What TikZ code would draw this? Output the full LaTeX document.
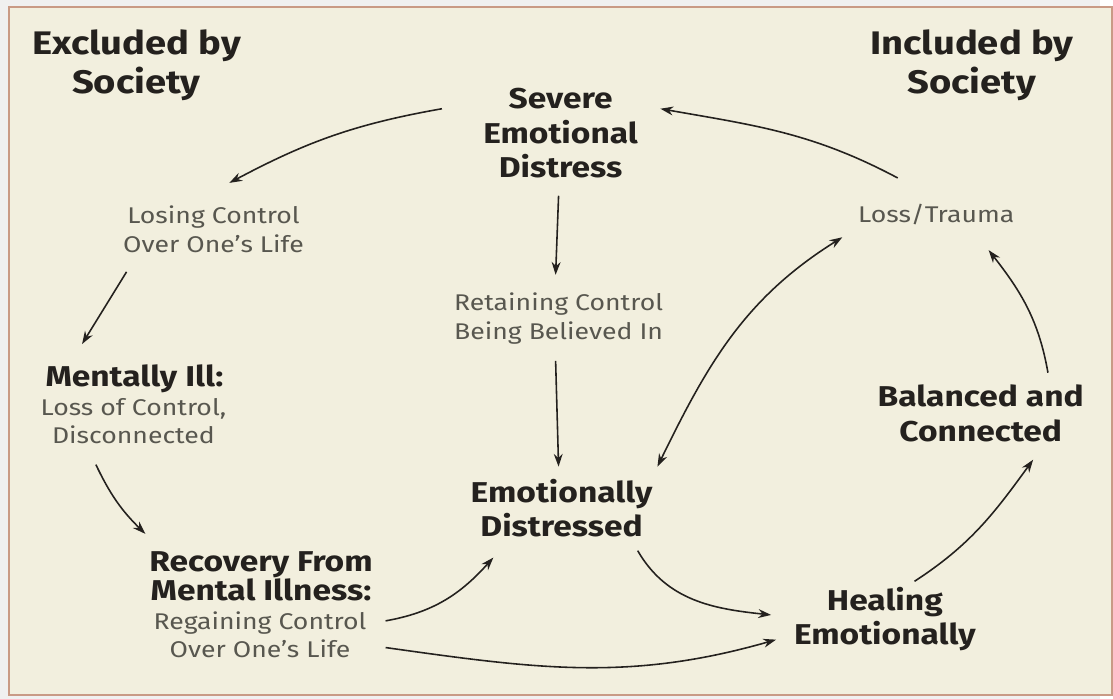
\documentclass[tikz,border=0pt]{standalone}
\usepackage{fontspec}
\setmainfont{Fira Sans}[FakeStretch=1.17]
\usetikzlibrary{arrows.meta}
\definecolor{paper}{HTML}{F2EFDE}
\definecolor{frame}{HTML}{C99A85}
\definecolor{ink}{HTML}{24211E}
\definecolor{soft}{HTML}{58574F}

\begin{document}
\begin{tikzpicture}[x=1pt,y=1pt,
  arr/.tip={Stealth[length=13pt,width=9pt]},
  head/.style={align=center,inner sep=0pt,text=ink,font=\bfseries\fontsize{33}{40}\selectfont},
  stage/.style={align=center,inner sep=0pt,text=ink,font=\bfseries\fontsize{29}{35}\selectfont},
  tight/.style={align=center,inner sep=0pt,text=ink,font=\bfseries\fontsize{29}{30}\selectfont},
  note/.style={align=center,inner sep=0pt,text=soft,font=\fontsize{23}{29}\selectfont},
  link/.style={-arr,line width=1.6pt,draw=ink}]
        \fill[black!6] (0,0) rectangle (1113,707);
        \filldraw[fill=paper,draw=frame,line width=1.6pt] (9,4) rectangle (1125,700);
        \useasboundingbox (0,0) rectangle (1113,707);
        % side headings
        \node[head] (excl) at (138,641) {Excluded by\\Society};
        \node[head] (incl) at (983,641) {Included by\\Society};
        % the stages
        \node[stage] (sev) at (567,572) {Severe\\Emotional\\Distress};
        \node[note] (lose) at (216,475) {Losing Control\\Over One’s Life};
        \node[note] (retain) at (565,385) {Retaining Control\\Being Believed In};
        \node[note] (loss) at (947,490) {Loss/Trauma};
        \node[tight] (ill) at (136,324) {Mentally Ill:};
        \node[note] (illnote) at (135,281) {Loss of Control,\\Disconnected};
        \node[stage] (bal) at (992,289) {Balanced and\\Connected};
        \node[stage] (emo) at (568,193) {Emotionally\\Distressed};
        \node[tight] (rec) at (264,124) {Recovery From\\Mental Illness:};
        \node[note] (recnote) at (263,65) {Regaining Control\\Over One’s Life};
        \node[stage] (heal) at (895,81) {Healing\\Emotionally};
        % connectors
        \draw[link] ([shift={(-120,25)}]sev.center) to[out=190,in=28] ([shift={(16,47)}]lose.center);
        \draw[link] ([shift={(-88,-43)}]lose.center) -- ([shift={(-53,35)}]ill.center);
        \draw[link] ([shift={(-38,-44)}]illnote.center) to[bend right=10] ([shift={(-117,43)}]rec.center);
        \draw[link] ([shift={(127,14)}]recnote.center) to[out=10,in=228] ([shift={(-69,-50)}]emo.center);
        \draw[link] ([shift={(127,-13)}]recnote.center) to[out=-8,in=196] ([shift={(-110,-21)}]heal.center);
        \draw[link] ([shift={(77,-43)}]emo.center) to[out=-60,in=174] ([shift={(-115,4)}]heal.center);
        \draw[link] ([shift={(30,38)}]heal.center) to[out=33,in=234] ([shift={(53,-47)}]bal.center);
        \draw[link] ([shift={(68,41)}]bal.center) to[out=100,in=-52] ([shift={(53,-36)}]loss.center);
        \draw[link] ([shift={(-39,37)}]loss.center) to[out=152,in=-10] ([shift={(101,25)}]sev.center);
        \draw[link] ([shift={(-2,-63)}]sev.center) -- ([shift={(-3,44)}]retain.center);
        \draw[link] ([shift={(-3,-43)}]retain.center) -- ([shift={(-3,42)}]emo.center);
        \draw[link,arr-arr] ([shift={(97,42)}]emo.center) to[out=64,in=212] ([shift={(-95,-23)}]loss.center);
\end{tikzpicture}
\end{document}
